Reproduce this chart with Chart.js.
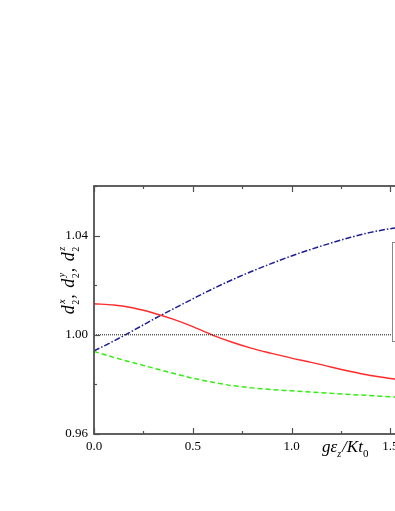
<!DOCTYPE html>
<html><head><meta charset="utf-8">
<script src="https://cdn.jsdelivr.net/npm/chart.js@4/dist/chart.umd.min.js"></script>
<style>
html,body{margin:0;padding:0;background:#fff;overflow:hidden;width:395px;height:511px}
#wrap{position:absolute;left:0;top:0;width:540px;height:511px}
</style></head>
<body><div id="wrap"><canvas id="c" width="540" height="511"></canvas></div>
<script>
// ---- data ----
const xValues  = [0, 0.1, 0.2, 0.3, 0.4, 0.5, 0.6, 0.7, 0.8, 0.9, 1.0, 1.1, 1.2, 1.3, 1.4, 1.5, 1.6];
const d2xValues = [1.0125, 1.0120, 1.0108, 1.0088, 1.0063, 1.0033, 0.9999, 0.9970, 0.9945, 0.9925, 0.9906, 0.9889, 0.9870, 0.9852, 0.9836, 0.9824, 0.9814];
const d2yValues = [0.9933, 0.9909, 0.9887, 0.9866, 0.9845, 0.9825, 0.9809, 0.9795, 0.9786, 0.9779, 0.9774, 0.9769, 0.9764, 0.9759, 0.9755, 0.9750, 0.9746];
const d2zValues = [0.9935, 0.9975, 1.0018, 1.0062, 1.0104, 1.0145, 1.0185, 1.0222, 1.0256, 1.0288, 1.0318, 1.0345, 1.0370, 1.0393, 1.0413, 1.0428, 1.0440];
const refX = [0, 2.0];
const refY = [1.0, 1.0];
const xTickLabels = ['0.0', '0.5', '1.0', '1.5', '2.0'];
const yTickLabels = ['0.96', '1.00', '1.04'];
const seriesNames = ['d2x', 'd2y', 'd2z'];

const pts = (xs, ys) => xs.map((x, i) => ({x: x, y: ys[i]}));
const FONT = '"Liberation Serif", "DejaVu Serif", serif';

const axesPlugin = {
  id: 'axesPlugin',
  afterDatasetsDraw(chart) {
    const ctx = chart.ctx;
    ctx.save();
    ctx.fillStyle = '#fff';
    ctx.fillRect(392.5, 242.5, 96, 99);
    ctx.strokeStyle = '#888';
    ctx.lineWidth = 1;
    ctx.strokeRect(392.5, 242.5, 96, 99);
    ctx.restore();
  },
  afterDraw(chart) {
    const ctx = chart.ctx, a = chart.chartArea, xs = chart.scales.x, ys = chart.scales.y;
    ctx.save();
    ctx.strokeStyle = '#505050';
    ctx.lineWidth = 1.8;
    ctx.strokeRect(a.left, a.top, a.right - a.left, a.bottom - a.top);
    ctx.lineWidth = 1.2;
    const seg = (x1, y1, x2, y2) => { ctx.beginPath(); ctx.moveTo(x1, y1); ctx.lineTo(x2, y2); ctx.stroke(); };
    xs.ticks.forEach(t => {
      const p = Math.round(xs.getPixelForValue(t.value)) + 0.5;
      const len = (t.label !== '') ? 6 : 3;
      seg(p, a.bottom, p, a.bottom - len);
      seg(p, a.top, p, a.top + len);
    });
    ys.ticks.forEach(t => {
      const p = Math.round(ys.getPixelForValue(t.value)) + 0.5;
      const len = (t.label !== '') ? 6 : 3;
      seg(a.left, p, a.left + len, p);
      seg(a.right, p, a.right - len, p);
    });
    // x title: g ε_z / K t_0
    ctx.fillStyle = '#000';
    ctx.textBaseline = 'alphabetic';
    ctx.textAlign = 'left';
    let x = 322, yb = 452;
    const big = 'italic 17px ' + FONT, small = 'italic 10px ' + FONT, smallU = '11px ' + FONT;
    ctx.font = big; ctx.fillText('gε', x, yb); x += ctx.measureText('gε').width;
    ctx.font = small; ctx.fillText('z', x, yb + 5); x += ctx.measureText('z').width + 1;
    ctx.font = big; ctx.fillText('/Kt', x, yb); x += ctx.measureText('/Kt').width;
    ctx.font = smallU; ctx.fillText('0', x, yb + 5);
    // y title: d_2^x, d_2^y, d_2^z (rotated)
    const bigY = 'italic 18px ' + FONT, supF = 'italic 10px ' + FONT, subF = '10px ' + FONT;
    const parts = [['x', ', '], ['y', ', '], ['z', '']];
    ctx.font = bigY;
    const dW = ctx.measureText('d').width;
    const cW = ctx.measureText(', ').width + 2;
    const grpW = dW + 0.5 + 6;
    const total = grpW * 3 + cW * 2;
    ctx.translate(74, 280 + total / 2);
    ctx.rotate(-Math.PI / 2);
    let lx = 0;
    parts.forEach(pp => {
      ctx.font = bigY; ctx.fillText('d', lx, 0); lx += dW + 0.5;
      ctx.font = subF; ctx.fillText('2', lx, 5);
      ctx.font = supF; ctx.fillText(pp[0], lx + 1, -9);
      lx += 6;
      if (pp[1]) { ctx.font = bigY; ctx.fillText(pp[1], lx, 0); lx += cW; }
    });
    ctx.restore();
  }
};

new Chart(document.getElementById('c'), {
  type: 'line',
  data: {
    datasets: [
      { label: 'ref', data: pts(refX, refY), borderColor: '#111', borderWidth: 1, borderDash: [1, 1], pointRadius: 0, fill: false },
      { label: seriesNames[0], data: pts(xValues, d2xValues), borderColor: '#ff2a2a', borderWidth: 1.4, pointRadius: 0, cubicInterpolationMode: 'monotone', fill: false },
      { label: seriesNames[1], data: pts(xValues, d2yValues), borderColor: '#33ee11', borderWidth: 1.5, borderDash: [5, 3], pointRadius: 0, cubicInterpolationMode: 'monotone', fill: false },
      { label: seriesNames[2], data: pts(xValues, d2zValues), borderColor: '#1c1c94', borderWidth: 1.5, borderDash: [6, 2, 1.5, 2], pointRadius: 0, cubicInterpolationMode: 'monotone', fill: false }
    ]
  },
  options: {
    responsive: false,
    animation: false,
    devicePixelRatio: 1,
    layout: { padding: { top: 186, right: 51, left: 0, bottom: 0 } },
    plugins: { legend: { display: false }, tooltip: { enabled: false } },
    scales: {
      x: {
        type: 'linear', min: 0, max: 2.0,
        grid: { display: false, drawTicks: false },
        border: { display: false },
        afterFit: s => { s.height = 77; },
        afterBuildTicks: s => { s.ticks = [0, 0.25, 0.5, 0.75, 1.0, 1.25, 1.5, 1.75, 2.0].map(v => ({value: v})); },
        ticks: {
          autoSkip: false, maxRotation: 0, padding: 5, color: '#000',
          font: { family: FONT, size: 13 },
          callback: v => { const s = v.toFixed(1); return (Math.abs(v * 2 - Math.round(v * 2)) < 1e-6 && xTickLabels.includes(s)) ? s : ''; }
        }
      },
      y: {
        type: 'linear', min: 0.96, max: 1.06,
        grid: { display: false, drawTicks: false },
        border: { display: false },
        afterFit: s => { s.width = 94; },
        afterBuildTicks: s => { s.ticks = [0.96, 0.98, 1.00, 1.02, 1.04, 1.06].map(v => ({value: v})); },
        ticks: {
          autoSkip: false, padding: 6, color: '#000',
          font: { family: FONT, size: 13 },
          callback: v => { const s = v.toFixed(2); return yTickLabels.includes(s) ? s : ''; }
        }
      }
    }
  },
  plugins: [axesPlugin]
});
</script>
</body></html>
